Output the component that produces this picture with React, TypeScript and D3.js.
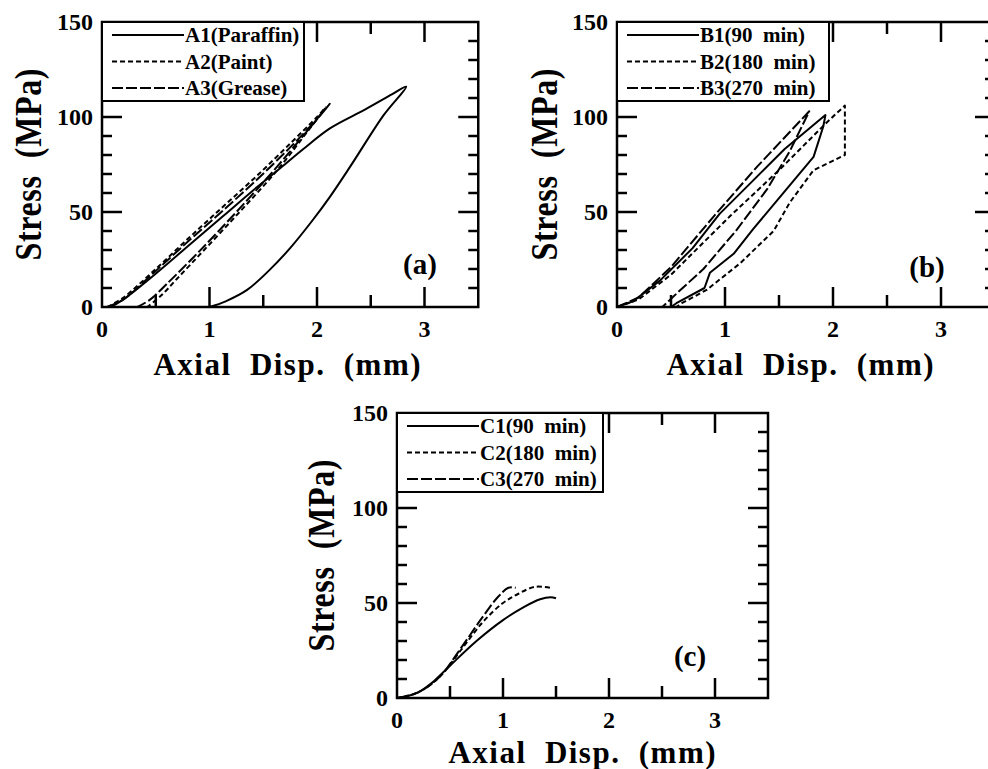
import React, { useEffect, useRef } from 'react'
import * as d3 from 'd3'

type Pt = [number, number]

// axial displacement (mm), stress (MPa) - loading then unloading
const a1Paraffin: Pt[] = [[0.08, 0], [0.2, 4], [0.51, 18], [0.82, 33], [1.13, 48], [1.44, 63], [1.7, 75], [1.87, 83], [2.12, 94], [2.45, 104], [2.7, 112], [2.83, 116], [2.62, 101], [2.31, 74], [2.12, 58], [1.95, 45], [1.75, 31], [1.55, 19], [1.35, 9], [1.15, 3], [1.0, 0]]
const a2Paint: Pt[] = [[0.05, 0], [0.2, 5], [0.5, 20], [0.82, 37], [1.13, 53], [1.44, 69], [1.75, 86], [2.0, 100], [2.08, 105], [1.92, 93], [1.63, 72], [1.28, 50], [0.95, 30], [0.7, 15], [0.55, 6], [0.42, 0]]
const a3Grease: Pt[] = [[0.05, 0], [0.2, 4], [0.5, 19], [0.82, 35.5], [1.13, 51], [1.44, 67], [1.75, 84], [2.0, 99], [2.12, 107], [1.9, 92], [1.6, 72], [1.25, 50], [0.9, 29], [0.6, 12], [0.45, 4], [0.33, 0]]

const b1Min90: Pt[] = [[0, 0], [0.15, 3], [0.4, 14], [0.7, 31], [0.95, 49], [1.25, 66], [1.55, 83], [1.93, 101], [1.91, 95], [1.82, 79], [1.57, 62], [1.26, 41], [1.08, 28], [0.86, 18], [0.81, 10], [0.55, 2], [0.5, 0]]
const b2Min180: Pt[] = [[0, 0], [0.2, 4], [0.5, 17], [1.05, 48], [1.5, 72], [1.94, 97], [2.11, 106], [2.11, 80], [1.82, 72], [1.6, 55], [1.45, 40], [1.14, 23], [0.83, 9], [0.6, 2], [0.55, 0]]
const b3Min270: Pt[] = [[0, 0], [0.2, 5], [0.5, 21], [0.9, 48], [1.3, 74], [1.78, 103], [1.6, 82], [1.39, 62], [1.1, 40], [0.8, 20], [0.55, 7], [0.42, 0]]

const c1Min90: Pt[] = [[0, 0], [0.1, 1], [0.2, 3], [0.35, 9], [0.5, 17], [0.75, 30], [1.0, 41], [1.2, 48], [1.35, 52], [1.45, 53], [1.5, 52.5]]
const c2Min180: Pt[] = [[0, 0], [0.2, 3], [0.4, 11], [0.6, 25], [0.81, 40], [1.0, 50], [1.15, 55], [1.3, 58.5], [1.45, 58]]
const c3Min270: Pt[] = [[0, 0], [0.2, 3], [0.4, 11], [0.6, 26], [0.8, 42], [0.95, 53], [1.05, 58], [1.12, 58]]

const legendA = ['A1(Paraffin)', 'A2(Paint)', 'A3(Grease)']
const legendB = ['B1(90  min)', 'B2(180  min)', 'B3(270  min)']
const legendC = ['C1(90  min)', 'C2(180  min)', 'C3(270  min)']

const xTicks = [0, 1, 2, 3]
const yTicks = [0, 50, 100, 150]

const FONT = "'Liberation Serif', 'Times New Roman', Times, serif"
const dashes = [null, '5,3', '11,3']

const panels = [
	{ left: 102, bottom: 307, unit: 107.5, series: [a1Paraffin, a2Paint, a3Grease], smooth: true, legend: legendA, legendW: 202, tag: '(a)', tagX: 420, tagY: 274, yLabX: 41, xLabX: 287, xLabY: 375 },
	{ left: 617, bottom: 307, unit: 108, series: [b1Min90, b2Min180, b3Min270], smooth: false, legend: legendB, legendW: 212, tag: '(b)', tagX: 927, tagY: 277, yLabX: 557, xLabX: 800, xLabY: 375 },
	{ left: 397, bottom: 698, unit: 106, series: [c1Min90, c2Min180, c3Min270], smooth: true, legend: legendC, legendW: 206, tag: '(c)', tagX: 690, tagY: 666, yLabX: 334, xLabX: 582, xLabY: 763 },
]

const App = () => {
	const ref = useRef<SVGSVGElement>(null)

	useEffect(() => {
		const svg = d3.select(ref.current)
		svg.selectAll('*').remove()

		panels.forEach(p => {
			const x = d3.scaleLinear().domain([0, 3.5]).range([p.left, p.left + 3.5 * p.unit])
			const y = d3.scaleLinear().domain([0, 150]).range([p.bottom, p.bottom - 150 * 1.9])
			const g = svg.append('g').style('font-family', FONT).style('font-weight', 'bold')

			// inward ticks, all four sides
			d3.range(10, 150, 10).forEach(v => {
				const len = v % 50 === 0 ? 20 : 10
				g.append('line').attr('x1', x(0)).attr('x2', x(0) + len).attr('y1', y(v)).attr('y2', y(v)).attr('stroke', '#000').attr('stroke-width', 2.5)
				g.append('line').attr('x1', x(3.5)).attr('x2', x(3.5) - len).attr('y1', y(v)).attr('y2', y(v)).attr('stroke', '#000').attr('stroke-width', 2.5)
			})
			d3.range(0.5, 3.5, 0.5).forEach(v => {
				const len = v % 1 === 0 ? 20 : 12
				g.append('line').attr('x1', x(v)).attr('x2', x(v)).attr('y1', y(0)).attr('y2', y(0) - len).attr('stroke', '#000').attr('stroke-width', 2.5)
				g.append('line').attr('x1', x(v)).attr('x2', x(v)).attr('y1', y(150)).attr('y2', y(150) + len).attr('stroke', '#000').attr('stroke-width', 2.5)
			})

			g.append('rect')
				.attr('x', x(0)).attr('y', y(150))
				.attr('width', x(3.5) - x(0)).attr('height', y(0) - y(150))
				.attr('fill', 'none').attr('stroke', '#000').attr('stroke-width', 2.5)

			// tick labels
			g.selectAll('.yt').data(yTicks).enter().append('text')
				.attr('x', x(0) - 9).attr('y', d => y(d)).attr('dy', '0.35em')
				.attr('text-anchor', 'end').attr('font-size', 24).text(d => d)
			g.selectAll('.xt').data(xTicks).enter().append('text')
				.attr('x', d => x(d)).attr('y', y(0) + 30)
				.attr('text-anchor', 'middle').attr('font-size', 24).text(d => d)

			// curves
			const line = d3.line<Pt>().x(d => x(d[0])).y(d => y(d[1]))
				.curve(p.smooth ? d3.curveCatmullRom.alpha(0.5) : d3.curveLinear)
			p.series.forEach((s, i) => {
				g.append('path').attr('d', line(s)).attr('fill', 'none').attr('stroke', '#000')
					.attr('stroke-width', 2).attr('stroke-linejoin', 'round').attr('stroke-dasharray', dashes[i])
			})

			// legend
			const lx = x(0), ly = y(150)
			g.append('rect').attr('x', lx).attr('y', ly).attr('width', p.legendW).attr('height', 79)
				.attr('fill', '#fff').attr('stroke', '#000').attr('stroke-width', 2)
			p.legend.forEach((name, i) => {
				const ry = ly + 13 + i * 26.5
				g.append('line').attr('x1', lx + 10).attr('x2', lx + 82).attr('y1', ry).attr('y2', ry)
					.attr('stroke', '#000').attr('stroke-width', 2).attr('stroke-dasharray', dashes[i])
				g.append('text').attr('x', lx + 83).attr('y', ry).attr('dy', '0.35em')
					.attr('font-size', 21).style('white-space', 'pre').text(name)
			})

			// axis titles and panel tag
			g.append('text')
				.attr('transform', `translate(${p.yLabX},${(y(0) + y(150)) / 2}) scale(1.2,1) rotate(-90)`)
				.attr('text-anchor', 'middle').attr('font-size', 32)
				.attr('textLength', 192).attr('lengthAdjust', 'spacing')
				.style('white-space', 'pre').text('Stress  (MPa)')
			g.append('text').attr('x', p.xLabX).attr('y', p.xLabY)
				.attr('text-anchor', 'middle').attr('font-size', 31)
				.attr('textLength', 267).attr('lengthAdjust', 'spacing')
				.style('white-space', 'pre').text('Axial  Disp.  (mm)')
			g.append('text').attr('x', p.tagX).attr('y', p.tagY)
				.attr('text-anchor', 'middle').attr('font-size', 29).text(p.tag)
		})
	}, [])

	return (
		<svg
			ref={ref}
			width={988}
			height={769}
			style={{ position: 'absolute', left: 0, top: 0, background: '#fff' }}
		></svg>
	)
}

export default App
